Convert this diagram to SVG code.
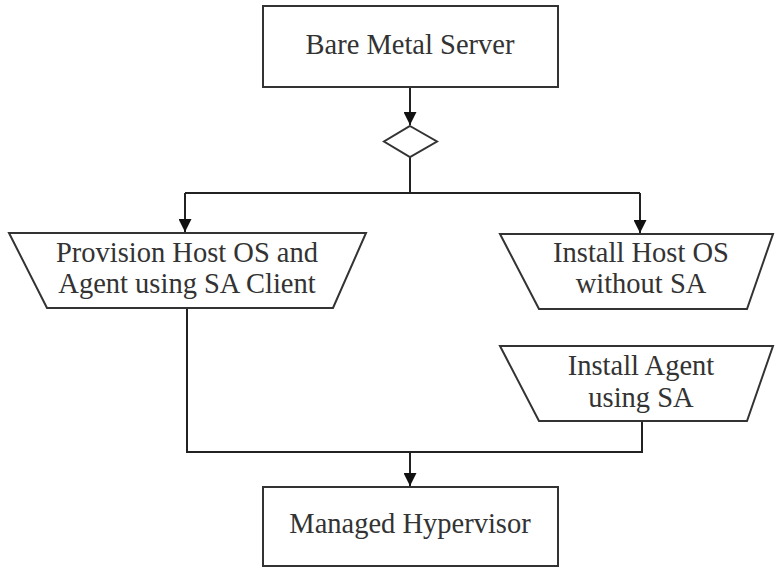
<svg xmlns="http://www.w3.org/2000/svg" width="775" height="567" viewBox="0 0 775 567">
<style>
.n{fill:#fff;stroke:#333;stroke-width:2}
.c{fill:none;stroke:#222;stroke-width:2}
text{font-family:"Liberation Serif","DejaVu Serif",serif;font-size:28.5px;fill:#333;text-anchor:middle}
</style>
<defs>
<marker id="b" viewBox="0 0 13 13" refX="13" refY="6.5" markerWidth="13" markerHeight="13" orient="auto" markerUnits="userSpaceOnUse">
<path d="M0,0 L13,6.5 L0,13 Z" fill="#111"/>
</marker>
</defs>
<g id="connectors">
<path class="c" d="M410,87 V125" marker-end="url(#b)"/>
<path class="c" d="M410,157 V193 M185,193 H640"/>
<path class="c" d="M185,193 V232" marker-end="url(#b)"/>
<path class="c" d="M640,193 V233" marker-end="url(#b)"/>
<path class="c" d="M187,308 V452 H642 V421"/>
<path class="c" d="M410,452 V486" marker-end="url(#b)"/>
</g>
<g id="bare-metal-server">
<rect class="n" x="263" y="6" width="295" height="81"/>
<text x="410" y="54">Bare Metal Server</text>
</g>
<g id="decision">
<polygon class="n" points="410,126 437,141.5 410,157 384,141.5"/>
</g>
<g id="provision-host-os">
<polygon class="n" points="9,233 366,233 333,308 47,308"/>
<text x="187" y="262">Provision Host OS and</text>
<text x="187" y="293">Agent using SA Client</text>
</g>
<g id="install-host-os">
<polygon class="n" points="500,234 773,234 747,309 539,309"/>
<text x="641" y="262">Install Host OS</text>
<text x="641" y="293">without SA</text>
</g>
<g id="install-agent">
<polygon class="n" points="500,346 773,346 747,421 539,421"/>
<text x="641" y="375">Install Agent</text>
<text x="641" y="407">using SA</text>
</g>
<g id="managed-hypervisor">
<rect class="n" x="263" y="487" width="295" height="79"/>
<text x="410" y="533">Managed Hypervisor</text>
</g>
</svg>
